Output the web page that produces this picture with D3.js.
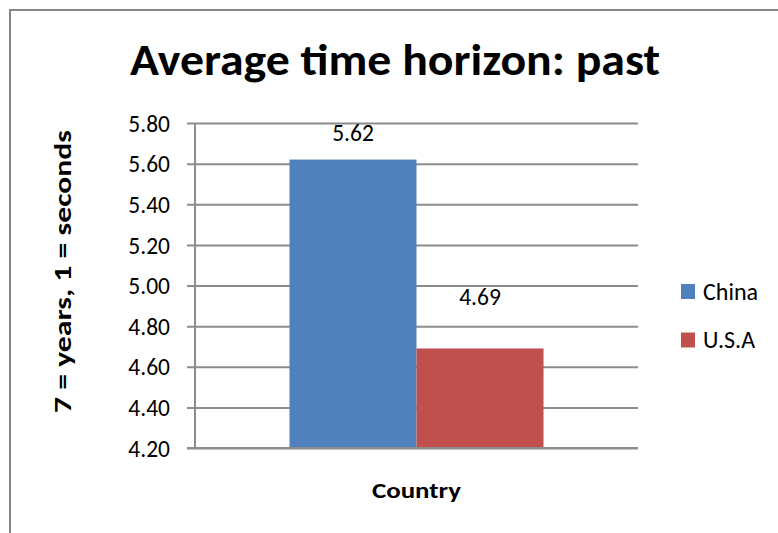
<!DOCTYPE html>
<html>
<head>
<meta charset="utf-8">
<script src="https://cdn.jsdelivr.net/npm/d3@7"></script>
<style>
  html, body { margin: 0; padding: 0; background: #fff; }
  svg { display: block; font-family: Carlito, Lato, "Open Sans", sans-serif; }
</style>
</head>
<body>
<svg id="chart" width="778" height="533"></svg>
<script>
// Chart content
const chartTitle = "Average time horizon: past";
const yAxisTitle = "7 = years, 1 = seconds";
const xAxisTitle = "Country";
const categories = ["Country"];
const seriesNames = ["China", "U.S.A"];
const seriesValues = [5.62, 4.69];
const seriesColors = ["#4F81BD", "#C0504D"];
const yTicks = [4.20, 4.40, 4.60, 4.80, 5.00, 5.20, 5.40, 5.60, 5.80];

const svg = d3.select("#chart");
const gridColor = "#8c8c8c";
const fontStack = "Carlito, Lato, 'Open Sans', sans-serif";

// Outer chart frame
svg.append("rect")
  .attr("x", 10).attr("y", 10)
  .attr("width", 800).attr("height", 600)
  .attr("fill", "none")
  .attr("stroke", "#868686")
  .attr("stroke-width", 2);

const plot = { left: 195, right: 638, top: 123, bottom: 448 };

const y = d3.scaleLinear()
  .domain([d3.min(yTicks), d3.max(yTicks)])
  .range([plot.bottom, plot.top]);

const x0 = d3.scaleBand()
  .domain(categories)
  .range([plot.left, plot.right])
  .paddingInner(0)
  .paddingOuter(0.372);

const x1 = d3.scaleBand()
  .domain(seriesNames)
  .range([0, x0.bandwidth()])
  .padding(0);

// Horizontal gridlines with tick marks, drawn via the axis generator
const yAxis = d3.axisLeft(y)
  .tickValues(yTicks)
  .tickFormat(d3.format(".2f"))
  .tickSize(-(plot.right - plot.left))
  .tickPadding(25);

const gy = svg.append("g")
  .attr("transform", `translate(${plot.left},0)`)
  .call(yAxis);
gy.select(".domain").remove();
gy.selectAll(".tick line")
  .attr("x1", -8)
  .attr("stroke", gridColor)
  .attr("stroke-width", 2);
gy.selectAll(".tick text")
  .attr("fill", "#000")
  .attr("dy", "0.35em")
  .style("font-size", "23.5px")
  .style("font-family", fontStack);

// Vertical axis line
svg.append("line")
  .attr("x1", plot.left).attr("x2", plot.left)
  .attr("y1", y(d3.max(yTicks))).attr("y2", y(d3.min(yTicks)))
  .attr("stroke", gridColor)
  .attr("stroke-width", 2);

// Bars with value labels above them
const labelGap = [19, 43];
const bars = svg.append("g");
categories.forEach(cat => {
  seriesNames.forEach((name, i) => {
    bars.append("rect")
      .attr("x", x0(cat) + x1(name))
      .attr("y", y(seriesValues[i]))
      .attr("width", x1.bandwidth())
      .attr("height", y(d3.min(yTicks)) - y(seriesValues[i]))
      .attr("fill", seriesColors[i]);
    bars.append("text")
      .attr("x", x0(cat) + x1(name) + x1.bandwidth() / 2)
      .attr("y", y(seriesValues[i]) - labelGap[i])
      .attr("text-anchor", "middle")
      .style("font-size", "23.5px")
      .text(d3.format(".2f")(seriesValues[i]));
  });
});

// Baseline redrawn on top of the bars
svg.append("line")
  .attr("x1", plot.left - 8).attr("x2", plot.right)
  .attr("y1", y(d3.min(yTicks))).attr("y2", y(d3.min(yTicks)))
  .attr("stroke", gridColor)
  .attr("stroke-width", 2);

// Title
svg.append("text")
  .attr("x", 395).attr("y", 75)
  .attr("text-anchor", "middle")
  .attr("textLength", 530)
  .attr("lengthAdjust", "spacingAndGlyphs")
  .style("font-size", "45px")
  .style("font-weight", "bold")
  .text(chartTitle);

// Axis titles
svg.append("text")
  .attr("transform", `translate(71,${(plot.top + plot.bottom) / 2 - 14}) rotate(-90)`)
  .attr("text-anchor", "middle")
  .attr("textLength", 283)
  .attr("lengthAdjust", "spacingAndGlyphs")
  .style("font-size", "24px")
  .style("font-weight", "bold")
  .text(yAxisTitle);

svg.append("text")
  .attr("x", (plot.left + plot.right) / 2)
  .attr("y", 498)
  .attr("text-anchor", "middle")
  .attr("textLength", 89)
  .attr("lengthAdjust", "spacingAndGlyphs")
  .style("font-size", "22.5px")
  .style("font-weight", "bold")
  .text(xAxisTitle);

// Legend
const legend = svg.append("g");
seriesNames.forEach((name, i) => {
  const ly = 291.5 + i * 48.5;
  legend.append("rect")
    .attr("x", 681).attr("y", ly - 7.5)
    .attr("width", 14).attr("height", 15)
    .attr("fill", seriesColors[i]);
  legend.append("text")
    .attr("x", 703).attr("y", ly + 8)
    .style("font-size", "24px")
    .text(name);
});
</script>
</body>
</html>
